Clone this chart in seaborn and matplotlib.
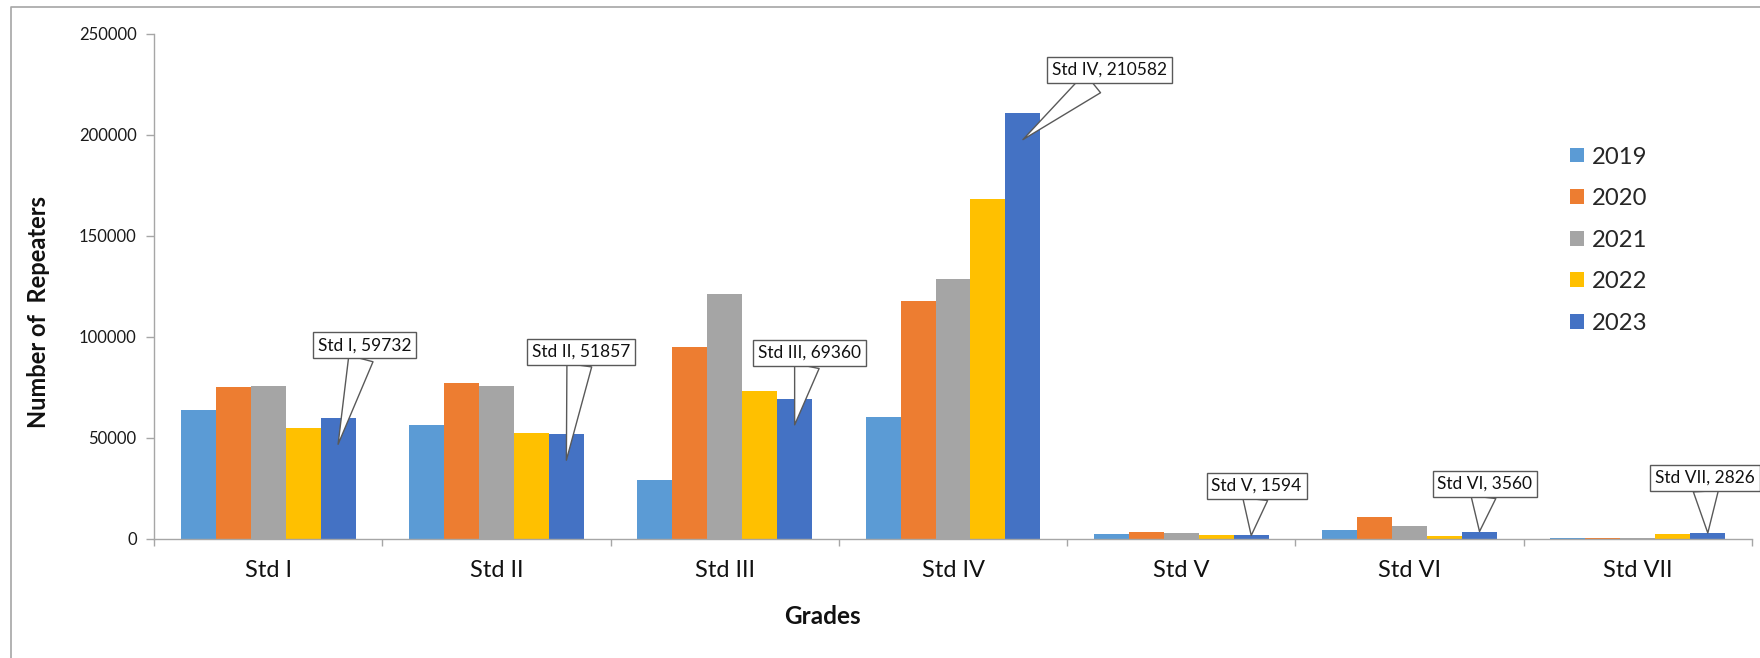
import matplotlib
matplotlib.use("Agg")
import matplotlib.pyplot as plt
from matplotlib.lines import Line2D
from matplotlib.patches import Patch
import seaborn as sns
import pandas as pd

# ---------------- data ----------------
grades = ["Std I", "Std II", "Std III", "Std IV", "Std V", "Std VI", "Std VII"]
years = ["2019", "2020", "2021", "2022", "2023"]
y2019 = [63700, 56100, 29200, 60400, 2150, 4300, 350]
y2020 = [74900, 77300, 94700, 117600, 3150, 10700, 500]
y2021 = [75500, 75500, 120900, 128800, 3000, 6450, 350]
y2022 = [54800, 52500, 73200, 168200, 1850, 1500, 2300]
y2023 = [59732, 51857, 69360, 210582, 1594, 3560, 2826]
yticks = [0, 50000, 100000, 150000, 200000, 250000]

colors = ["#5B9BD5", "#ED7D31", "#A5A5A5", "#FFC000", "#4472C4"]

# callout box centres (layout only)
callout_xy = [(0.422, 95800), (1.371, 92500), (2.372, 92100), (3.684, 232200),
              (4.33, 26200), (5.33, 27200), (6.295, 30100)]

series = [y2019, y2020, y2021, y2022, y2023]
rows = []
for yr, vals in zip(years, series):
    for g, v in zip(grades, vals):
        rows.append({"Grade": g, "Year": yr, "Value": v})
df = pd.DataFrame(rows)

sns.set_style("white")
plt.rcParams["font.family"] = ["Lato", "DejaVu Sans"]

fig = plt.figure(figsize=(17.6, 6.58), dpi=100)
ax = fig.add_axes([154 / 1760, 1 - 538.7 / 658, 1598 / 1760, 505 / 658])

sns.barplot(data=df, x="Grade", y="Value", hue="Year", order=grades,
            hue_order=years, palette=colors, width=0.766, gap=0,
            linewidth=0, saturation=1, legend=False, ax=ax, errorbar=None)

ax.set_xlim(-0.5, len(grades) - 0.5)
ax.set_ylim(0, 250000)
ax.set_yticks(yticks)
ax.set_yticklabels([str(t) for t in yticks])

axis_col = "#A6A6A6"
for s in ["top", "right"]:
    ax.spines[s].set_visible(False)
for s in ["left", "bottom"]:
    ax.spines[s].set_color(axis_col)
    ax.spines[s].set_linewidth(1.0)

ax.tick_params(axis="y", direction="out", length=5.5, width=1.0, color=axis_col,
               pad=7, labelsize=12, labelcolor="#1a1a1a", left=True)
ax.set_xticks(range(len(grades)))
ax.set_xticklabels(grades)
ax.tick_params(axis="x", which="major", length=0, pad=15, labelsize=17,
               labelcolor="#111111")
ax.set_xticks([i - 0.5 for i in range(len(grades) + 1)], minor=True)
ax.tick_params(axis="x", which="minor", direction="out", length=5, width=1.0,
               color=axis_col, bottom=True)

ax.set_xlabel("Grades", fontsize=17.5, fontweight="bold", color="#111111")
ax.xaxis.set_label_coords((822.6 - 154) / 1598, -(604.5 - 538.7) / 505)
ax.set_ylabel("Number of  Repeaters", fontsize=17, fontweight="bold", color="#111111")
ax.yaxis.set_label_coords((50 - 154) / 1598, (538.7 - 311.7) / 505)

# callouts on 2023 bars
bar_offset = 2 * 0.766 / 5
for i, (g, v) in enumerate(zip(grades, y2023)):
    tip_y = v - 13000 if v > 26000 else v
    ax.annotate(f"{g}, {v}", xy=(i + bar_offset, tip_y), xytext=callout_xy[i],
                textcoords="data", ha="center", va="center", fontsize=12.5,
                color="#111111", annotation_clip=False,
                bbox=dict(boxstyle="square,pad=0.28", fc="white", ec="#595959", lw=1.0),
                arrowprops=dict(arrowstyle="wedge,tail_width=1.0", mutation_scale=18,
                                fc="white", ec="#595959", lw=1.0,
                                shrinkA=0, shrinkB=0))

# legend
handles = [Patch(facecolor=c, edgecolor="none", label=y) for c, y in zip(colors, years)]
fig.legend(handles=handles, loc="upper left", bbox_to_anchor=(1570 / 1760, 1 - 146.5 / 658),
           frameon=False, fontsize=17.2, handlelength=0.58, handleheight=0.58,
           handletextpad=0.32, labelspacing=0.86, borderpad=0, borderaxespad=0)

# outer chart border (left and top visible)
fig.add_artist(Line2D([11 / 1760, 11 / 1760, 1.0], [0.0, 1 - 7 / 658, 1 - 7 / 658],
                      transform=fig.transFigure, color="#A6A6A6", lw=1.2))

fig.savefig("out.png", dpi=100)
